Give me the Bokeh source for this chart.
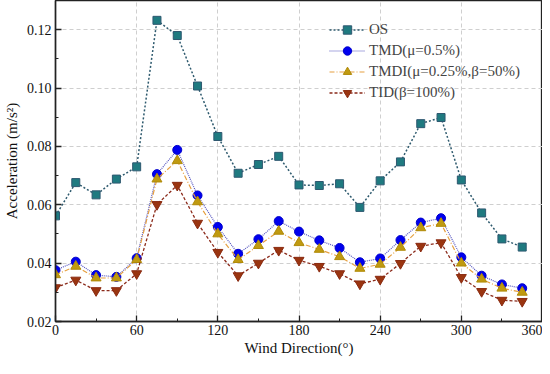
from bokeh.plotting import figure
from bokeh.models import FixedTicker, NumeralTickFormatter, Range1d
from bokeh.embed import file_html
from bokeh.resources import INLINE

directions = [0, 15, 30, 45, 60, 75, 90, 105, 120, 135, 150, 165,
              180, 195, 210, 225, 240, 255, 270, 285, 300, 315, 330, 345]
os_vals = [0.0562, 0.0676, 0.0634, 0.0688, 0.0730, 0.1232, 0.1180, 0.1007,
           0.0834, 0.0708, 0.0738, 0.0766, 0.0668, 0.0666, 0.0672, 0.0591,
           0.0682, 0.0747, 0.0878, 0.0899, 0.0685, 0.0572, 0.0483, 0.0455]
tmd_vals = [0.0376, 0.0405, 0.0359, 0.0353, 0.0417, 0.0705, 0.0788, 0.0632,
            0.0524, 0.0432, 0.0482, 0.0544, 0.0508, 0.0478, 0.0452, 0.0403,
            0.0416, 0.0479, 0.0539, 0.0554, 0.0420, 0.0357, 0.0327, 0.0314]
tmdi_vals = [0.0360, 0.0389, 0.0349, 0.0349, 0.0412, 0.0688, 0.0751, 0.0610,
             0.0500, 0.0412, 0.0460, 0.0509, 0.0470, 0.0447, 0.0422, 0.0382,
             0.0396, 0.0454, 0.0521, 0.0536, 0.0400, 0.0345, 0.0314, 0.0300]
tid_vals = [0.0316, 0.0342, 0.0306, 0.0306, 0.0364, 0.0601, 0.0667, 0.0537,
            0.0437, 0.0357, 0.0400, 0.0444, 0.0410, 0.0389, 0.0364, 0.0329,
            0.0345, 0.0399, 0.0458, 0.0470, 0.0351, 0.0303, 0.0273, 0.0269]

labels = ["OS", "TMD(\u03bc=0.5%)", "TMDI(\u03bc=0.25%,\u03b2=50%)", "TID(\u03b2=100%)"]
x_ticks = [0, 60, 120, 180, 240, 300, 360]
x_minor = [30, 90, 150, 210, 270, 330]
y_ticks = [0.02, 0.04, 0.06, 0.08, 0.10, 0.12]
y_minor = [0.03, 0.05, 0.07, 0.09, 0.11, 0.13]

FONT = "Liberation Serif"

p = figure(width=542, height=358, output_backend="svg", toolbar_location=None,
           x_range=Range1d(0, 360), y_range=Range1d(0.02, 0.13),
           min_border_left=47, min_border_right=0, min_border_top=0, min_border_bottom=0)
p.background_fill_color = "white"
p.border_fill_color = "white"
p.outline_line_color = "#222222"
p.outline_line_width = 1.3

p.xaxis.ticker = FixedTicker(ticks=x_ticks, minor_ticks=x_minor)
p.yaxis.ticker = FixedTicker(ticks=y_ticks, minor_ticks=y_minor)
p.yaxis.formatter = NumeralTickFormatter(format="0.00")

for ax in (p.xaxis[0], p.yaxis[0]):
    ax.axis_line_width = 1.5
    ax.axis_line_color = "#222222"
    ax.major_tick_in = 6
    ax.major_tick_out = 0
    ax.minor_tick_in = 3
    ax.minor_tick_out = 0
    ax.major_tick_line_color = "#222222"
    ax.minor_tick_line_color = "#222222"
    ax.major_tick_line_width = 1.3
    ax.major_label_text_font = FONT
    ax.major_label_text_font_size = "14px"
    ax.major_label_text_color = "#111111"
    ax.axis_label_text_font = FONT
    ax.axis_label_text_font_size = "15px"
    ax.axis_label_text_font_style = "normal"
    ax.axis_label_text_color = "#111111"

p.xaxis.axis_label = "Wind Direction(\u00b0)"
p.yaxis.axis_label = "Acceleration (m/s\u00b2)"
p.xaxis.major_label_standoff = 3
p.xaxis.axis_label_standoff = 2
p.yaxis.major_label_standoff = 4
p.yaxis.axis_label_standoff = 4

p.grid.grid_line_color = "#cfcfcf"
p.grid.grid_line_dash = "4 3"
p.grid.grid_line_width = 1

# OS
p.line(directions, os_vals, line_color="#2e5a6e", line_width=1.5, line_dash="2 2", legend_label=labels[0])
p.scatter(directions, os_vals, marker="square", size=8, fill_color="#1f7a80", line_color="#2e5870",
          line_width=1, legend_label=labels[0])
# TMD
p.line(directions, tmd_vals, line_color="#5656c0", line_width=1.2, line_dash="1 1", legend_label=labels[1])
p.scatter(directions, tmd_vals, marker="circle", size=9, fill_color="#0000ee", line_color="#0000cc",
          legend_label=labels[1])
# TMDI
p.line(directions, tmdi_vals, line_color="#e6a040", line_width=1.2, line_dash="5 2 1 2", legend_label=labels[2])
p.scatter(directions, tmdi_vals, marker="triangle", size=10, fill_color="#c09a10", line_color="#b08a08",
          legend_label=labels[2])
# TID
p.line(directions, tid_vals, line_color="#8b2a1a", line_width=1.3, line_dash="3 2", legend_label=labels[3])
p.scatter(directions, tid_vals, marker="inverted_triangle", size=10, fill_color="#9a3510", line_color="#8a2a10",
          legend_label=labels[3])

lg = p.legend[0]
lg.location = (274, 218)
lg.margin = 0
lg.padding = 3
lg.spacing = 0
lg.border_line_color = None
lg.background_fill_alpha = 0
lg.label_text_font = FONT
lg.label_text_font_size = "15px"
lg.label_height = 21
lg.glyph_height = 21
lg.glyph_width = 36
lg.label_standoff = 4

open("out.html", "w").write(file_html(p, INLINE))
